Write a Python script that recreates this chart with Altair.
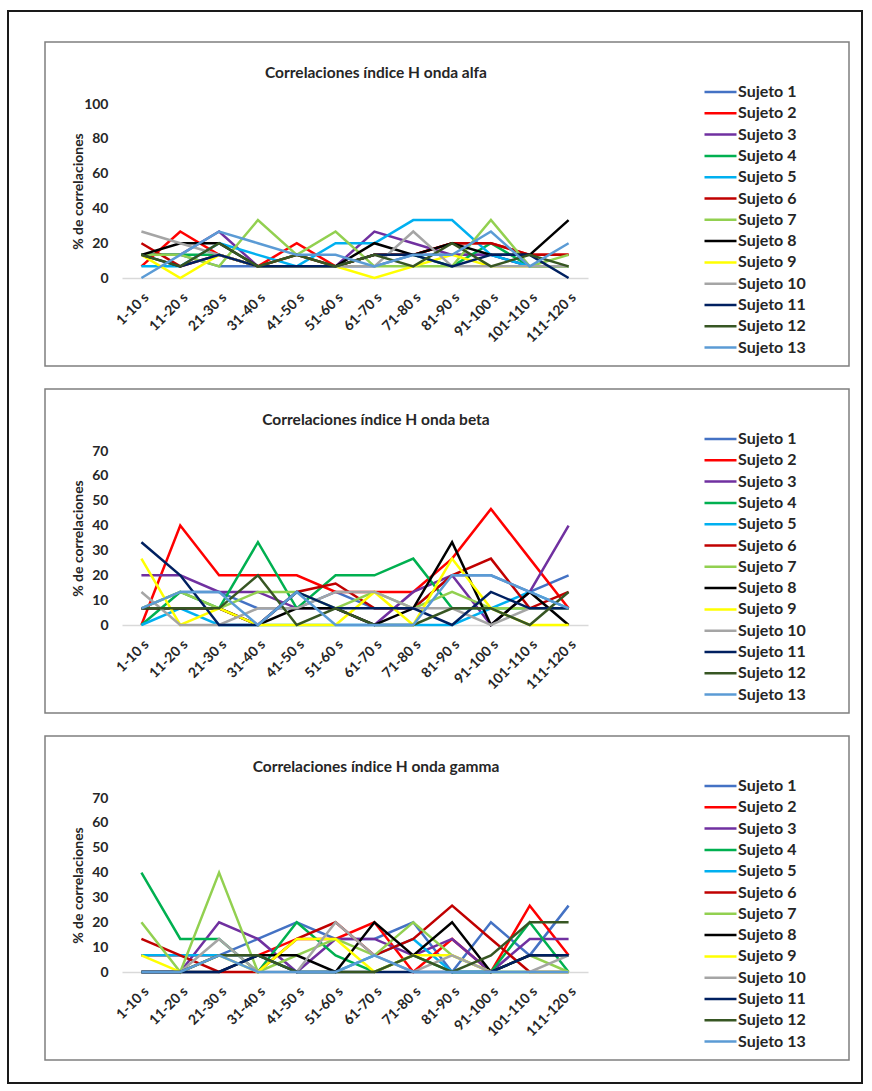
import altair as alt
import pandas as pd

intervalos = ["1-10 s", "11-20 s", "21-30 s", "31-40 s", "41-50 s", "51-60 s",
              "61-70 s", "71-80 s", "81-90 s", "91-100 s", "101-110 s", "111-120 s"]
sujetos = [f"Sujeto {i}" for i in range(1, 14)]
colores = ["#4472C4", "#FF0000", "#7030A0", "#00B050", "#00B0F0", "#C00000",
           "#92D050", "#000000", "#FFFF00", "#A5A5A5", "#002060", "#375623", "#5B9BD5"]

# % de correlaciones, onda alfa (one list per subject)
alfa = [
    [13.3, 13.3, 6.7, 6.7, 6.7, 6.7, 6.7, 13.3, 13.3, 13.3, 6.7, 6.7],
    [6.7, 26.7, 13.3, 6.7, 20, 6.7, 13.3, 13.3, 20, 20, 13.3, 13.3],
    [13.3, 13.3, 26.7, 6.7, 6.7, 6.7, 26.7, 20, 13.3, 13.3, 6.7, 6.7],
    [13.3, 13.3, 13.3, 6.7, 13.3, 6.7, 13.3, 13.3, 6.7, 20, 6.7, 6.7],
    [6.7, 6.7, 20, 13.3, 6.7, 20, 20, 33.3, 33.3, 13.3, 6.7, 6.7],
    [20, 6.7, 13.3, 6.7, 13.3, 6.7, 13.3, 13.3, 20, 20, 13.3, 13.3],
    [13.3, 13.3, 6.7, 33.3, 13.3, 26.7, 6.7, 6.7, 6.7, 33.3, 6.7, 13.3],
    [13.3, 20, 20, 6.7, 6.7, 6.7, 20, 13.3, 20, 13.3, 13.3, 33.3],
    [13.3, 0, 13.3, 6.7, 6.7, 6.7, 0, 6.7, 13.3, 6.7, 6.7, 6.7],
    [26.7, 20, 13.3, 6.7, 6.7, 6.7, 6.7, 26.7, 6.7, 6.7, 6.7, 6.7],
    [13.3, 6.7, 13.3, 6.7, 6.7, 6.7, 13.3, 13.3, 6.7, 13.3, 13.3, 0],
    [13.3, 6.7, 20, 6.7, 13.3, 6.7, 13.3, 6.7, 20, 6.7, 13.3, 6.7],
    [0, 13.3, 26.7, 20, 13.3, 13.3, 6.7, 13.3, 13.3, 26.7, 6.7, 20],
]

# % de correlaciones, onda beta
beta = [
    [6.7, 13.3, 13.3, 6.7, 6.7, 13.3, 6.7, 6.7, 20, 20, 13.3, 20],
    [0, 40, 20, 20, 20, 13.3, 13.3, 13.3, 26.7, 46.7, 26.7, 6.7],
    [20, 20, 13.3, 13.3, 6.7, 6.7, 0, 13.3, 20, 0, 13.3, 40],
    [0, 13.3, 6.7, 33.3, 6.7, 20, 20, 26.7, 6.7, 6.7, 6.7, 6.7],
    [0, 6.7, 0, 0, 0, 0, 0, 0, 0, 6.7, 13.3, 6.7],
    [6.7, 6.7, 6.7, 0, 13.3, 16.7, 6.7, 6.7, 20, 26.7, 6.7, 13.3],
    [6.7, 13.3, 6.7, 13.3, 13.3, 6.7, 13.3, 6.7, 13.3, 6.7, 6.7, 6.7],
    [6.7, 6.7, 6.7, 0, 6.7, 6.7, 0, 6.7, 33.3, 0, 13.3, 0],
    [26.7, 0, 6.7, 0, 0, 0, 13.3, 0, 26.7, 6.7, 0, 0],
    [13.3, 0, 0, 6.7, 6.7, 13.3, 13.3, 6.7, 6.7, 0, 6.7, 6.7],
    [33.3, 20, 0, 0, 13.3, 6.7, 6.7, 6.7, 0, 13.3, 6.7, 6.7],
    [6.7, 6.7, 6.7, 20, 0, 6.7, 0, 0, 6.7, 6.7, 0, 13.3],
    [6.7, 13.3, 13.3, 0, 13.3, 0, 0, 0, 20, 20, 13.3, 6.7],
]

# % de correlaciones, onda gamma
gamma = [
    [0, 0, 6.7, 13.3, 20, 13.3, 13.3, 20, 0, 20, 6.7, 26.7],
    [6.7, 6.7, 6.7, 6.7, 13.3, 13.3, 20, 0, 13.3, 0, 26.7, 6.7],
    [0, 0, 20, 13.3, 0, 13.3, 13.3, 6.7, 13.3, 0, 13.3, 13.3],
    [40, 13.3, 13.3, 0, 20, 6.7, 0, 6.7, 0, 0, 20, 0],
    [6.7, 6.7, 6.7, 6.7, 0, 0, 6.7, 13.3, 0, 0, 0, 0],
    [13.3, 6.7, 0, 0, 13.3, 20, 6.7, 13.3, 26.7, 13.3, 0, 0],
    [20, 0, 40, 0, 6.7, 13.3, 6.7, 20, 6.7, 0, 6.7, 0],
    [0, 0, 0, 6.7, 6.7, 0, 20, 6.7, 20, 0, 6.7, 6.7],
    [6.7, 0, 6.7, 0, 13.3, 13.3, 0, 6.7, 6.7, 0, 0, 0],
    [0, 0, 13.3, 0, 0, 20, 6.7, 0, 6.7, 0, 0, 6.7],
    [0, 0, 0, 6.7, 0, 0, 0, 0, 0, 0, 6.7, 6.7],
    [0, 0, 6.7, 6.7, 0, 0, 0, 6.7, 0, 6.7, 20, 20],
    [0, 0, 6.7, 0, 0, 0, 6.7, 0, 0, 0, 0, 0],
]

FONT = "Lato"
TXT = "#262626"
W, H = 466, 174


def to_df(series):
    rows = []
    for s, vals in zip(sujetos, series):
        for i, v in zip(intervalos, vals):
            rows.append({"sujeto": s, "intervalo": i, "valor": v})
    return pd.DataFrame(rows)


def panel(series, titulo, ymax, ystep, outer=False):
    df = to_df(series)
    lines = alt.Chart(df).mark_line(strokeWidth=2.5).encode(
        x=alt.X("intervalo:N", sort=intervalos,
                scale=alt.Scale(type="point", padding=0.5),
                axis=alt.Axis(title=None, labelAngle=-45, ticks=False,
                              domainColor="#D9D9D9", domainWidth=1.5,
                              labelFont=FONT, labelFontWeight="bold",
                              labelFontSize=14, labelColor=TXT,
                              labelPadding=12)),
        y=alt.Y("valor:Q",
                scale=alt.Scale(domain=[0, ymax], nice=False),
                axis=alt.Axis(values=list(range(0, ymax + 1, ystep)),
                              title="% de correlaciones", domain=False,
                              ticks=False, grid=False, labelFont=FONT,
                              labelFontWeight="bold", labelFontSize=14,
                              labelColor=TXT, labelPadding=14,
                              titleFont=FONT, titleFontWeight="bold",
                              titleFontSize=14, titleColor=TXT,
                              titleX=-44, titleY=H / 2,
                              titleBaseline="middle")),
        color=alt.Color("sujeto:N", sort=sujetos,
                        scale=alt.Scale(domain=sujetos, range=colores),
                        legend=alt.Legend(title=None, orient="none",
                                          legendX=581, legendY=-21,
                                          symbolType="stroke",
                                          symbolSize=1024,
                                          symbolStrokeWidth=2.5,
                                          clipHeight=18, rowPadding=3.3,
                                          labelFont=FONT, labelFontSize=16,
                                          labelFontWeight="bold",
                                          labelColor=TXT,
                                          labelOffset=0, padding=0)),
    )
    one = alt.Data(values=[{"k": 1}])
    frame = alt.Chart(one).mark_rect(fillOpacity=0, stroke="#7F7F7F",
                                     strokeWidth=1.5).encode(
        x=alt.value(-77), x2=alt.value(727),
        y=alt.value(-62), y2=alt.value(262))
    title = alt.Chart(one).mark_text(font=FONT, fontSize=15.5, fontWeight="bold",
                                     color=TXT, align="center",
                                     baseline="middle").encode(
        x=alt.value(254), y=alt.value(-31), text=alt.value(titulo))
    layers = [frame, title]
    if outer:
        border = alt.Chart(one).mark_rect(fillOpacity=0, stroke="#1A1A1A",
                                          strokeWidth=2).encode(
            x=alt.value(-114), x2=alt.value(740),
            y=alt.value(-93), y2=alt.value(979))
        layers.append(border)
    layers.append(lines)
    return alt.layer(*layers).properties(width=W, height=H)


p1 = panel(alfa, "Correlaciones índice H onda alfa", 100, 20, outer=True)
p2 = panel(beta, "Correlaciones índice H onda beta", 70, 10)
p3 = panel(gamma, "Correlaciones índice H onda gamma", 70, 10)

chart = alt.vconcat(p1, p2, p3, spacing=173, bounds="flush").resolve_scale(
    color="independent").resolve_legend(color="independent").properties(
    padding={"left": 7, "top": 10, "right": 5, "bottom": 5},
    background="white",
).configure_view(strokeWidth=0)

chart.save("out.html", embed_options={"renderer": "svg", "actions": False})
